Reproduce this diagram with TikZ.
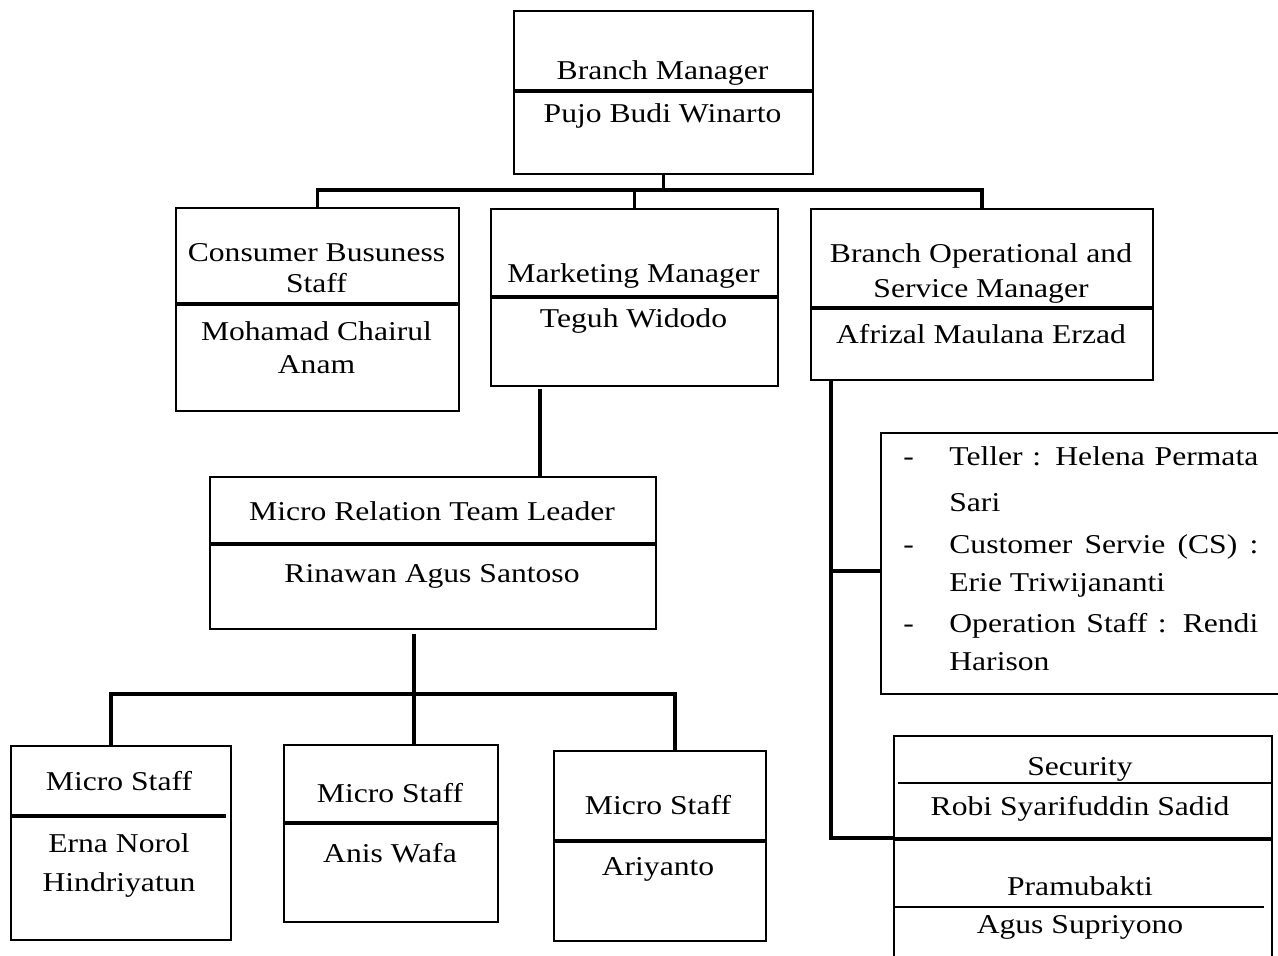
\documentclass[tikz,border=0pt]{standalone}
\usepackage{fontspec}
\setmainfont{Liberation Serif}
\usepackage{graphicx}
\usetikzlibrary{calc}
\newcommand\vs[1]{\scalebox{1}[0.86]{#1}}
\tikzset{
  box/.style={draw, line width=1.1pt, inner sep=0pt, anchor=north west, rectangle},
  txt/.style={anchor=base, inner sep=0pt, font=\fontsize{18}{20}\selectfont},
  ltxt/.style={txt, anchor=base west},
  div/.style={line width=1.8pt},
  thinline/.style={line width=0.6pt},
  conn/.style={line width=1.9pt, line join=miter},
}
\newcommand\mkbox[5]{\node[box, minimum width={(#4-#2)*0.02cm}, minimum height={(#5-#3)*0.02cm}] (#1) at (#2,#3) {};}
\begin{document}
\begin{tikzpicture}[x=0.02cm,y=-0.02cm]
\useasboundingbox (0,0) rectangle (1278,956);
% boxes
\mkbox{bm}{513}{10}{812}{173}
\mkbox{cbs}{175}{207}{458}{410}
\mkbox{mm}{490}{208}{777}{385}
\mkbox{bos}{810}{208}{1152}{379}
\mkbox{mrtl}{209}{476}{655}{628}
\mkbox{msa}{10}{745}{230}{939}
\mkbox{msb}{283}{744}{497}{921}
\mkbox{msc}{553}{750}{765}{940}
\mkbox{list}{880}{432}{1292}{693}
\mkbox{sec}{893}{735}{1271}{975}
% dividers
\draw[div] (513,91) -- (812,91);
\draw[div] (175,304) -- (458,304);
\draw[div] (490,297) -- (777,297);
\draw[div] (810,308) -- (1152,308);
\draw[div] (209,544) -- (657,544);
\draw[div] (10,816) -- (226,816);
\draw[div] (283,823) -- (497,823);
\draw[div] (553,841) -- (767,841);
\draw[thinline] (898,783) -- (1272,783);
\draw[div] (895,839) -- (1272,839);
\draw[thinline] (893,907) -- (1264,907);
% connectors
\coordinate (buslevel) at (0,190);
\coordinate (bus) at (bm.south |- buslevel);
\draw[conn] (bm.south) -- (bus);
\draw[conn] (cbs.north) |- (bus);
\draw[conn] (mm.north) |- (bus);
\draw[conn] (bos.north) |- (bus);
\path ($(mm.south west)+(50,2)$) coordinate (mmo);
\draw[conn] (mmo) -- (mmo |- mrtl.north);
\coordinate (j1) at (111,694);
\coordinate (j2) at (414,694);
\coordinate (j3) at (675,694);
\draw[conn] (j1 |- msa.north) -- (j1) -- (j3) -- (j3 |- msc.north);
\draw[conn] ($(j2 |- mrtl.south)+(0,4)$) -- (j2 |- msb.north);
\path ($(bos.south west)+(21,0)$) coordinate (bo);
\coordinate (k1) at (831,571);
\coordinate (k2) at (831,838);
\draw[conn] (bo) -- (k2) -- (k2 -| sec.west);
\draw[conn] (k1) -- (k1 -| list.west);
% texts
\node[txt] (t1) at (662.5,80) {\vs{Branch Manager}};
\node[txt] (t2) at (662.5,123) {\vs{Pujo Budi Winarto}};
\node[txt] (t3) at (316.5,262) {\vs{Consumer Busuness}};
\node[txt] (t4) at (316.5,293) {\vs{Staff}};
\node[txt] (t5) at (316.5,340) {\vs{Mohamad Chairul}};
\node[txt] (t6) at (316.5,373) {\vs{Anam}};
\node[txt] (t7) at (633.5,282) {\vs{Marketing Manager}};
\node[txt] (t8) at (633.5,327) {\vs{Teguh Widodo}};
\node[txt] (t9) at (981,263) {\vs{Branch Operational and}};
\node[txt] (t10) at (981,297) {\vs{Service Manager}};
\node[txt] (t11) at (981,343) {\vs{Afrizal Maulana Erzad}};
\node[txt] (t12) at (432,520) {\vs{Micro Relation Team Leader}};
\node[txt] (t13) at (432,582) {\vs{Rinawan Agus Santoso}};
\node[txt] (t14) at (119,790) {\vs{Micro Staff}};
\node[txt] (t15) at (119,852) {\vs{Erna Norol}};
\node[txt] (t16) at (119,891) {\vs{Hindriyatun}};
\node[txt] (t17) at (390,802) {\vs{Micro Staff}};
\node[txt] (t18) at (390,862) {\vs{Anis Wafa}};
\node[txt] (t19) at (658,814) {\vs{Micro Staff}};
\node[txt] (t20) at (658,875) {\vs{Ariyanto}};
\node[txt] (t21) at (1080,775) {\vs{Security}};
\node[txt] (t22) at (1080,815) {\vs{Robi Syarifuddin Sadid}};
\node[txt] (t23) at (1080,895) {\vs{Pramubakti}};
\node[txt] (t24) at (1080,933) {\vs{Agus Supriyono}};
% list
\node[ltxt] (d1) at (903,465) {\vs{-}};
\node[ltxt] (l1) at (949,465) {\vs{\makebox[6.18cm][s]{Teller : Helena Permata}}};
\node[ltxt] (l2) at (949,511) {\vs{Sari}};
\node[ltxt] (d2) at (903,553) {\vs{-}};
\node[ltxt] (l3) at (949,553) {\vs{\makebox[6.18cm][s]{Customer Servie (CS) :}}};
\node[ltxt] (l4) at (949,591) {\vs{Erie Triwijananti}};
\node[ltxt] (d3) at (903,632) {\vs{-}};
\node[ltxt] (l5) at (949,632) {\vs{\makebox[6.18cm][s]{Operation Staff : Rendi}}};
\node[ltxt] (l6) at (949,670) {\vs{Harison}};
\end{tikzpicture}
\end{document}
